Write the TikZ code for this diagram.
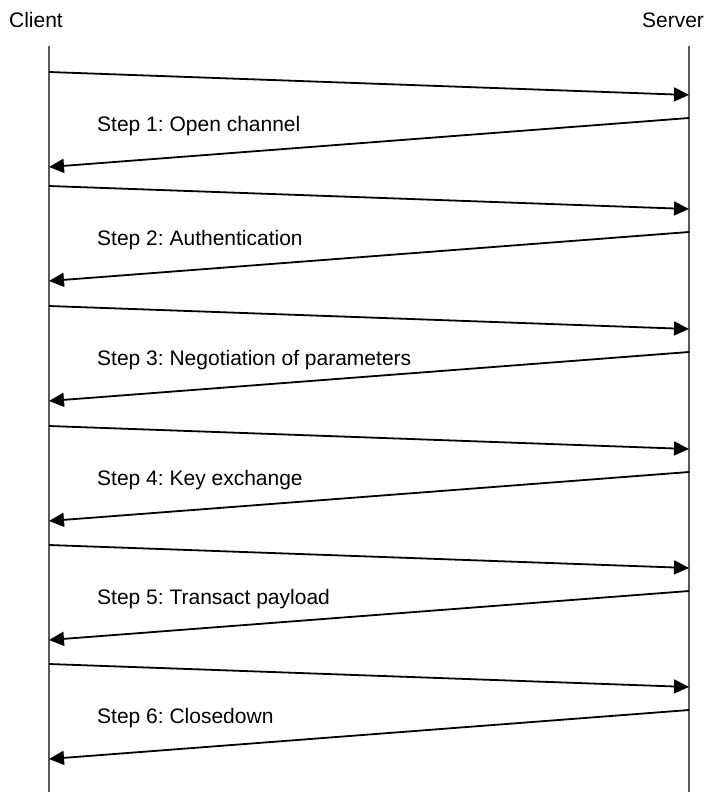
\documentclass[tikz,border=0pt]{standalone}
\usepackage{fontspec}
\setmainfont{Liberation Sans}
\usetikzlibrary{arrows.meta}
\frenchspacing
\begin{document}
\begin{tikzpicture}[x=1pt,y=-1pt,
  lifeline/.style={draw=black!65,line width=1.5pt},
  msg/.style={draw=black,line width=1.8pt,-{Triangle[length=15pt,width=14pt]}},
  actor/.style={font=\fontsize{21}{25}\selectfont,inner sep=0pt},
  steplabel/.style={font=\fontsize{21}{25}\selectfont,inner sep=0pt,anchor=west}]
\useasboundingbox (0,0) rectangle (706,792);
% participants
\node[actor] (client) at (36,20) {Client};
\node[actor] (server) at (673,20) {Server};
\coordinate (ctop) at (49,46);
\coordinate (cbot) at (49,792);
\coordinate (stop) at (689,46);
\coordinate (sbot) at (689,792);
\draw[lifeline] (ctop) -- (cbot);
\draw[lifeline] (stop) -- (sbot);
% request / response pairs
\foreach \i/\off/\txt in {1/0/{Step 1: Open channel},2/114/{Step 2: Authentication},
    3/234/{Step 3: Negotiation of parameters},4/354/{Step 4: Key exchange},
    5/473/{Step 5: Transact payload},6/592/{Step 6: Closedown}}{
  \coordinate (req\i a) at (49,72+\off);
  \coordinate (req\i b) at (689,95+\off);
  \coordinate (res\i a) at (689,118+\off);
  \coordinate (res\i b) at (49,167+\off);
  \draw[msg] (req\i a) -- (req\i b);
  \draw[msg] (res\i a) -- (res\i b);
  \node[steplabel] (label\i) at (97,126+\off) {\txt};
}
\end{tikzpicture}
\end{document}
